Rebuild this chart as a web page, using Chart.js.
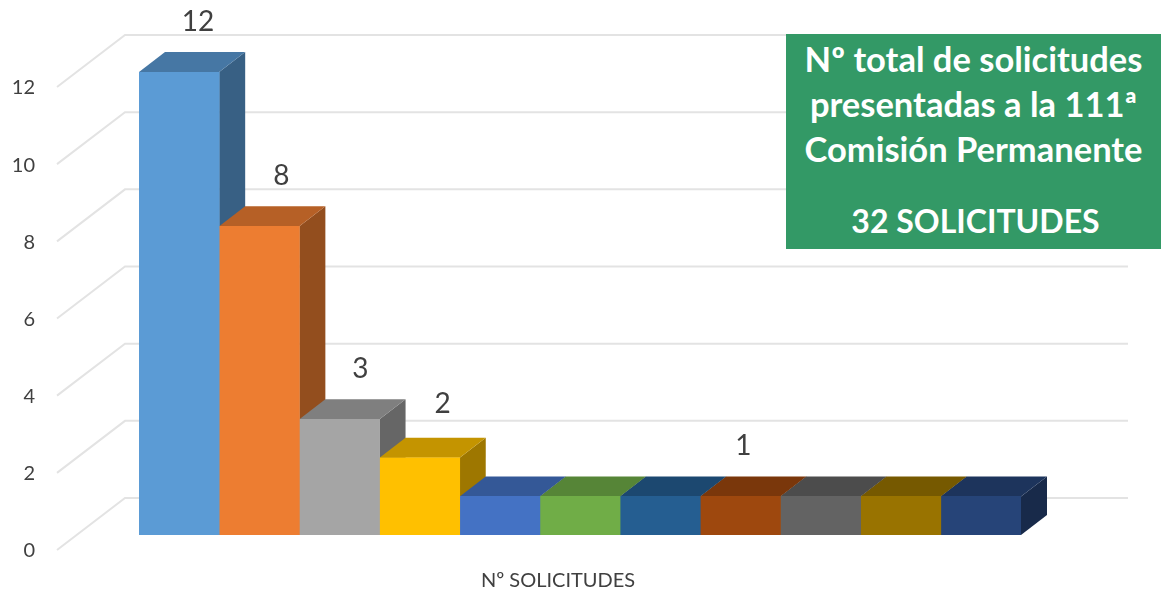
<!DOCTYPE html>
<html lang="es">
<head>
<meta charset="utf-8">
<title>Solicitudes 111ª Comisión Permanente</title>
<script src="https://cdn.jsdelivr.net/npm/chart.js@4"></script>
<style>
    html, body { margin: 0; padding: 0; background: #fff; overflow: hidden; }
    #contenedor { position: relative; width: 1161px; height: 591px; }
    #grafico { display: block; filter: blur(0.4px); }
    #caja {
        position: absolute; left: 786px; top: 34px; width: 375px; height: 215px;
        background: #339966; color: #fff; text-align: center;
        font: bold 34.5px/45px Lato, sans-serif; box-sizing: border-box; padding-top: 2px;
    }
    #caja p { margin: 0; }
    #caja p + p { margin-top: 27px; font-size: 32px; padding-left: 4px; }
</style>
</head>
<body>
<div id="contenedor">
    <canvas id="grafico" width="1161" height="591"></canvas>
    <div id="caja">
        <p>Nº total de solicitudes<br>presentadas a la 111ª<br>Comisión Permanente</p>
        <p>32 SOLICITUDES</p>
    </div>
</div>
<script>
// ------------ Datos ------------ //

var categorias = ['Nº SOLICITUDES'];
var valores = [12, 8, 3, 2, 1, 1, 1, 1, 1, 1, 1];
var etiquetasEje = [0, 2, 4, 6, 8, 10, 12];
var etiquetasBarra = ['12', '8', '3', '2', '', '', '', '1', '', '', ''];

var colores = ['#5B9BD5', '#ED7D31', '#A5A5A5', '#FFC000', '#4472C4', '#70AD47',
               '#255E91', '#9E480E', '#636363', '#997300', '#264478'];

// ------------ Perspectiva 3D ------------ //

var FONDO_X = 26, FONDO_Y = -20;    // profundidad de cada barra
var PARED_X = -14, PARED_Y = -37;   // pared del fondo respecto al eje
var LATERAL_X = -82, LATERAL_Y = 15; // extremo delantero de la pared lateral
var PARED_FIN = 1128;
var COLOR_REJILLA = '#e3e3e3', COLOR_TEXTO = '#404040';

// ajuste de cada etiqueta respecto al centro y la cima de su barra
var ajusteEtiqueta = { 0: [19, -50], 1: [22, -50], 2: [21, -50], 3: [23, -54], 7: [3, -50] };

function oscurecer(hex, f) {
    var n = parseInt(hex.slice(1), 16);
    return 'rgb(' + Math.round((n >> 16) * f) + ',' + Math.round(((n >> 8) & 255) * f) + ',' + Math.round((n & 255) * f) + ')';
}

function poligono(ctx, puntos, color) {
    ctx.beginPath();
    ctx.moveTo(puntos[0][0], puntos[0][1]);
    for (var i = 1; i < puntos.length; i++) ctx.lineTo(puntos[i][0], puntos[i][1]);
    ctx.closePath();
    ctx.fillStyle = color;
    ctx.fill();
}

var caras3d = {
    id: 'caras3d',
    beforeDatasetsDraw: function (chart) {
        var ctx = chart.ctx, y = chart.scales.y, izq = chart.chartArea.left;

        // rejilla de la pared del fondo y de la pared lateral
        ctx.save();
        ctx.strokeStyle = COLOR_REJILLA;
        ctx.lineWidth = 2;
        etiquetasEje.forEach(function (v) {
            var py = y.getPixelForValue(v);
            ctx.beginPath();
            ctx.moveTo(izq + LATERAL_X, py + LATERAL_Y);
            ctx.lineTo(izq + PARED_X, py + PARED_Y);
            ctx.lineTo(PARED_FIN, py + PARED_Y);
            ctx.stroke();
        });
        ctx.restore();

        // lateral y tapa de cada barra, de izquierda a derecha
        valores.forEach(function (v, i) {
            var barra = chart.getDatasetMeta(i).data[0];
            var x0 = barra.x - barra.width / 2, x1 = barra.x + barra.width / 2;
            var arriba = barra.y, abajo = barra.base;
            poligono(ctx, [[x1, arriba], [x1 + FONDO_X, arriba + FONDO_Y], [x1 + FONDO_X, abajo + FONDO_Y], [x1, abajo]],
                oscurecer(colores[i], 0.62));
            poligono(ctx, [[x0, arriba], [x0 + FONDO_X, arriba + FONDO_Y], [x1 + FONDO_X, arriba + FONDO_Y], [x1, arriba]],
                oscurecer(colores[i], 0.77));
        });
    },
    afterDatasetsDraw: function (chart) {
        var ctx = chart.ctx;
        ctx.save();
        ctx.fillStyle = COLOR_TEXTO;
        ctx.font = '28px Lato, sans-serif';
        ctx.textAlign = 'center';
        ctx.textBaseline = 'middle';
        etiquetasBarra.forEach(function (texto, i) {
            if (!texto) return;
            var barra = chart.getDatasetMeta(i).data[0];
            var a = ajusteEtiqueta[i];
            ctx.fillText(texto, barra.x + a[0], barra.y + a[1]);
        });
        ctx.restore();
    }
};

// ------------ Gráfico ------------ //

new Chart(document.getElementById('grafico').getContext('2d'), {
    type: 'bar',
    data: {
        labels: categorias,
        datasets: valores.map(function (v, i) {
            return { label: 'Serie ' + (i + 1), data: [v], backgroundColor: colores[i], borderWidth: 0 };
        })
    },
    options: {
        responsive: false,
        animation: false,
        layout: { padding: { top: 72, right: 140 } },
        plugins: { legend: { display: false }, tooltip: { enabled: false } },
        datasets: { bar: { barPercentage: 1, categoryPercentage: 1 } },
        scales: {
            x: {
                grid: { display: false, drawTicks: false },
                border: { display: false },
                afterFit: function (s) { s.height = 56; s.paddingLeft = 0; s.paddingRight = 0; },
                ticks: { color: COLOR_TEXTO, font: { family: 'Lato, sans-serif', size: 20 }, padding: 34, labelOffset: -22, maxRotation: 0 }
            },
            y: {
                min: 0,
                max: 12,
                grid: { display: false, drawTicks: false },
                border: { display: false },
                // sin esto el padding de las marcas encoge el área en vertical
                afterFit: function (s) { s.width = 139; s.paddingTop = 0; s.paddingBottom = 0; },
                afterBuildTicks: function (s) { s.ticks = etiquetasEje.map(function (v) { return { value: v }; }); },
                ticks: { color: COLOR_TEXTO, font: { family: 'Lato, sans-serif', size: 20 }, padding: 104, labelOffset: 16 }
            }
        }
    },
    plugins: [caras3d]
});
</script>
</body>
</html>
